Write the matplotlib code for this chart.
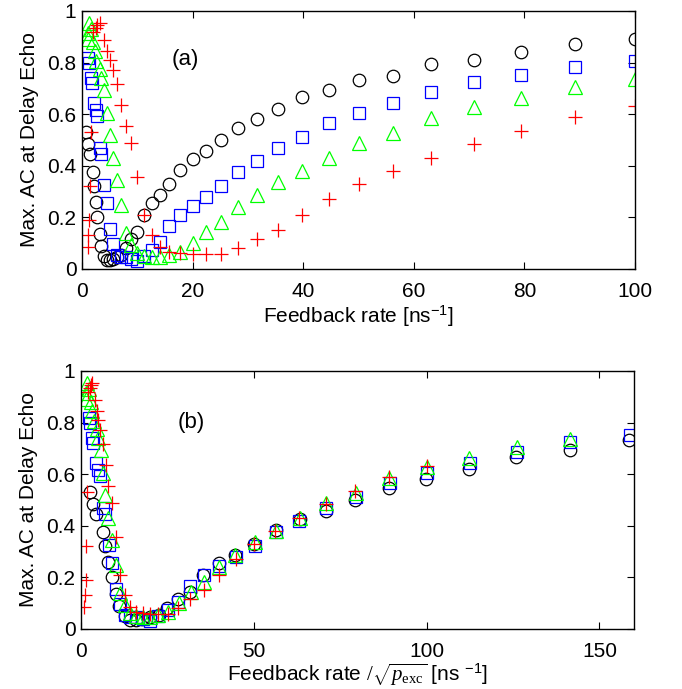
import numpy as np
import matplotlib
matplotlib.use('Agg')
import matplotlib.pyplot as plt
from matplotlib.ticker import FuncFormatter

plt.rcParams.update({
    'font.family': 'Liberation Sans',
    'font.size': 15,
    'mathtext.fontset': 'custom',
    'mathtext.rm': 'Liberation Serif',
    'mathtext.it': 'Liberation Serif:italic',
    'mathtext.sf': 'Liberation Sans',
    'xtick.direction': 'in',
    'ytick.direction': 'in',
    'xtick.top': True,
    'ytick.right': True,
    'xtick.major.size': 5,
    'ytick.major.size': 5,
    'xtick.major.pad': 9.5,
    'ytick.major.pad': 4,
    'axes.linewidth': 1.0,
})

# feedback rates [1/ns] and max. autocorrelation at the delay echo, one set per excitation
rate_black = [0.8, 1.1, 1.4, 2.0, 2.2, 2.5, 2.8, 3.2, 3.5, 4.0, 4.5, 5.0, 5.6, 6.3, 7.1, 7.9, 8.9, 10.0, 11.2,
              12.6, 14.1, 15.8, 17.8, 20.0, 22.4, 25.1, 28.2, 31.6, 35.5, 39.8, 44.7, 50.1, 56.2, 63.1, 70.8,
              79.4, 89.1, 100.0]
ac_black = [0.53, 0.485, 0.445, 0.375, 0.32, 0.26, 0.20, 0.135, 0.09, 0.05, 0.035, 0.035, 0.04, 0.045, 0.055,
            0.08, 0.115, 0.145, 0.209, 0.255, 0.287, 0.328, 0.384, 0.425, 0.459, 0.50, 0.548, 0.583, 0.621,
            0.668, 0.694, 0.731, 0.748, 0.796, 0.810, 0.840, 0.872, 0.891]

rate_blue = [1.1, 1.3, 1.6, 1.8, 2.2, 2.5, 2.8, 3.2, 3.5, 4.0, 4.5, 5.0, 5.6, 6.3, 7.1, 7.9, 8.9, 10.0, 11.2,
             12.6, 14.1, 15.8, 17.8, 20.0, 22.4, 25.1, 28.2, 31.6, 35.5, 39.8, 44.7, 50.1, 56.2, 63.1, 70.8,
             79.4, 89.1, 100.0]
ac_blue = [0.818, 0.80, 0.74, 0.72, 0.643, 0.617, 0.592, 0.468, 0.445, 0.326, 0.255, 0.155, 0.095, 0.054, 0.045,
           0.045, 0.04, 0.03, 0.05, 0.075, 0.106, 0.165, 0.209, 0.245, 0.28, 0.322, 0.377, 0.42, 0.47, 0.51,
           0.567, 0.606, 0.645, 0.685, 0.725, 0.751, 0.783, 0.807]

rate_green = [1.0, 1.1, 1.3, 1.6, 2.0, 2.3, 2.6, 3.2, 3.5, 4.0, 4.5, 5.0, 5.6, 6.3, 7.1, 7.9, 8.9, 10.0, 11.2,
              12.6, 14.1, 15.8, 17.8, 20.0, 22.4, 25.1, 28.2, 31.6, 35.5, 39.8, 44.7, 50.1, 56.2, 63.1, 70.8,
              79.4, 89.1, 100.0]
ac_green = [0.89, 0.915, 0.955, 0.93, 0.88, 0.845, 0.805, 0.775, 0.74, 0.695, 0.605, 0.52, 0.43, 0.345, 0.248,
            0.138, 0.093, 0.061, 0.05, 0.046, 0.048, 0.054, 0.067, 0.1, 0.143, 0.183, 0.24, 0.288, 0.336, 0.38,
            0.431, 0.487, 0.528, 0.584, 0.627, 0.664, 0.704, 0.735]

rate_red = [1.0, 1.1, 1.3, 1.4, 1.6, 2.0, 2.5, 2.8, 3.2, 4.0, 4.5, 5.0, 5.6, 6.3, 7.1, 7.9, 8.9, 10.0, 11.2,
            12.6, 14.1, 15.8, 17.8, 20.0, 22.4, 25.1, 28.2, 31.6, 35.5, 39.8, 44.7, 50.1, 56.2, 63.1, 70.8,
            79.4, 89.1, 100.0]
ac_red = [0.087, 0.13, 0.19, 0.32, 0.53, 0.92, 0.935, 0.945, 0.953, 0.889, 0.845, 0.811, 0.773, 0.717, 0.635,
          0.553, 0.487, 0.358, 0.209, 0.132, 0.087, 0.067, 0.063, 0.058, 0.058, 0.058, 0.08, 0.115, 0.151,
          0.209, 0.27, 0.329, 0.38, 0.431, 0.484, 0.536, 0.590, 0.632]

# excitation probability of each set
p_exc = [0.1, 0.25, 0.5, 1.0]

series = [
    (rate_black, ac_black, p_exc[0], 'o', 'k', 9.0),
    (rate_blue, ac_blue, p_exc[1], 's', '#0000ff', 8.0),
    (rate_green, ac_green, p_exc[2], '^', '#00ff00', 10.5),
    (rate_red, ac_red, p_exc[3], '+', '#ff0000', 9.5),
]

fig = plt.figure(figsize=(6.82, 6.89), dpi=100)
ax_a = fig.add_axes([0.1202, 0.6096, 0.811, 0.3745])
ax_b = fig.add_axes([0.1188, 0.0871, 0.8109, 0.3745])

for rate, ac, p, marker, color, ms in series:
    rate = np.array(rate)
    ax_a.plot(rate, ac, ls='none', marker=marker, mfc='none', mec=color, ms=ms, mew=0.9)
    ax_b.plot(rate / np.sqrt(p), ac, ls='none', marker=marker, mfc='none', mec=color, ms=ms, mew=0.9)

fmt = FuncFormatter(lambda v, _: f'{v:g}')

ax_a.set_xlim(0, 100)
ax_a.set_ylim(0, 1)
ax_a.set_xticks([0, 20, 40, 60, 80, 100])
ax_a.set_yticks([0, 0.2, 0.4, 0.6, 0.8, 1])
ax_a.yaxis.set_major_formatter(fmt)
ax_a.set_ylabel('Max. AC at Delay Echo', labelpad=6)
ax_a.set_xlabel(r'Feedback rate [ns$^{\mathsf{-1}}$]', labelpad=2)
ax_a.text(18.6, 0.81, '(a)', ha='center', va='center', fontsize=16)

ax_b.set_xlim(0, 160)
ax_b.set_ylim(0, 1)
ax_b.set_xticks([0, 50, 100, 150])
ax_b.set_yticks([0, 0.2, 0.4, 0.6, 0.8, 1])
ax_b.yaxis.set_major_formatter(fmt)
ax_b.set_ylabel('Max. AC at Delay Echo', labelpad=6)
ax_b.set_xlabel(r'Feedback rate $/\sqrt{p_{\mathrm{exc}}}$ [ns $^{\mathsf{-1}}$]', labelpad=0)
ax_b.text(31.8, 0.80, '(b)', ha='center', va='center', fontsize=16)

fig.savefig('out.png', dpi=100)
